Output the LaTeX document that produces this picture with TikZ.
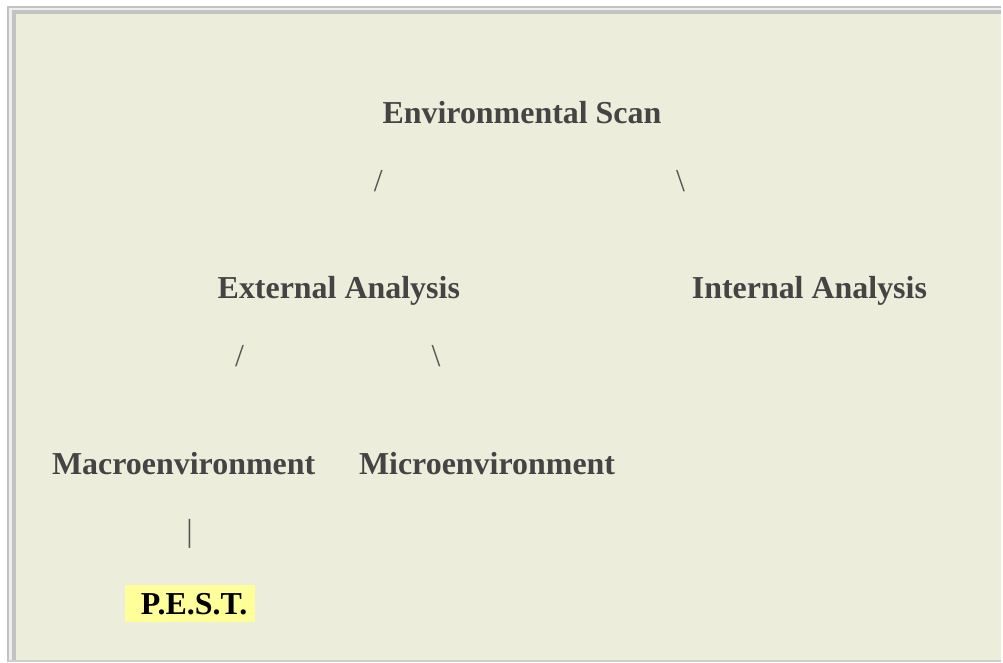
\documentclass[tikz,border=0pt]{standalone}
\usepackage{fontspec}
\setmainfont{Liberation Serif}
\usepackage{tikz}
\definecolor{panelbg}{HTML}{EDEDDC}
\definecolor{rimgray}{HTML}{C2C2C2}
\definecolor{rimlight}{HTML}{EEEEEE}
\definecolor{headtext}{HTML}{444444}
\definecolor{marktext}{HTML}{555555}
\definecolor{highlight}{HTML}{FFFF99}
\tikzstyle{heading} = [text=headtext, font=\fontsize{32}{38}\selectfont\bfseries,
    inner sep=0pt, anchor=base]
\tikzstyle{treemark} = [text=marktext, font=\fontsize{32}{38}\selectfont,
    inner sep=0pt, anchor=base]
\tikzstyle{pestbox} = [fill=highlight, text=black, font=\fontsize{32}{38}\selectfont\bfseries,
    inner sep=0pt, text height=30pt, text depth=7pt, anchor=base west]

\begin{document}
\begin{tikzpicture}[x=1pt, y=-1pt]
                % panel with its inset rim
                \fill[white] (0,0) rectangle (1003,663);
                \fill[rimlight] (8,7) rectangle (1003,663);
                \fill[panelbg] (16,14) rectangle (1003,661);
                \draw[rimgray, line width=2pt] (1003,7) -- (8,7) -- (8,663);
                \draw[rimgray, line width=4pt] (1003,12) -- (14,12) -- (14,661);
                \draw[rimgray!80, line width=2pt] (8,662) -- (1003,662);
                % tree
                \node[heading] (scan) at (523,124) {Environmental Scan};
                \node[treemark] (sl1) at (379,192) {/};
                \node[treemark] (bs1) at (682,192) {\textbackslash};
                \node[heading] (ext) at (339.5,299) {External Analysis};
                \node[heading] (int) at (811,299) {Internal Analysis};
                \node[treemark] (sl2) at (240,367) {/};
                \node[treemark] (bs2) at (437,367) {\textbackslash};
                \node[heading] (macro) at (184,475) {Macroenvironment};
                \node[heading] (micro) at (488,475) {Microenvironment};
                \node[treemark] (bar) at (190,543) {|};
                \node[pestbox] (pest) at (125,616) {\kern16pt P.E.S.T.\kern8pt};
            \end{tikzpicture}
\end{document}
